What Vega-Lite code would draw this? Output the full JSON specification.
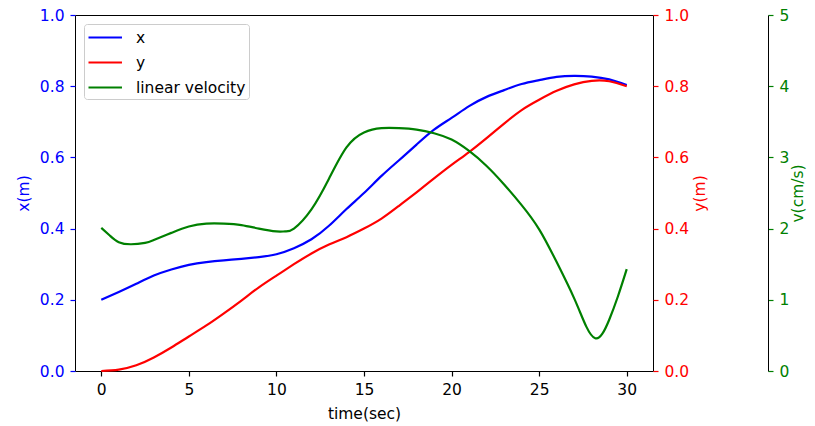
{
  "$schema": "https://vega.github.io/schema/vega-lite/v6.json",
  "width": 578,
  "height": 356,
  "autosize": {"type": "none"},
  "padding": {"left": 75, "top": 15, "right": 162, "bottom": 55},
  "config": {
    "view": {"stroke": "black", "strokeWidth": 1},
    "font": "DejaVu Sans",
    "axis": {"grid": false, "labelFont": "DejaVu Sans", "titleFont": "DejaVu Sans", "labelFontSize": 15.5, "titleFontSize": 15.5, "titleFontWeight": "normal", "tickSize": 5, "tickWidth": 1.2, "labelPadding": 6, "domain": false, "labelFlush": false, "labelOverlap": false},
    "legend": {"orient": "top-left", "offset": 9, "padding": 3, "strokeColor": "#cccccc", "fillColor": "white", "cornerRadius": 3, "symbolType": "M-1,0H2.72", "symbolStrokeWidth": 2.2, "symbolSize": 324, "labelFontSize": 15.5, "labelFont": "DejaVu Sans", "labelColor": "black", "labelOffset": 28, "rowPadding": 6}
  },
  "data": {"values": [
    {"t":0,"s":"x","v":0.200},{"t":1,"s":"x","v":0.222},{"t":2,"s":"x","v":0.245},{"t":3,"s":"x","v":0.268},{"t":4,"s":"x","v":0.285},{"t":5,"s":"x","v":0.298},{"t":6,"s":"x","v":0.306},{"t":7,"s":"x","v":0.311},{"t":8,"s":"x","v":0.315},{"t":9,"s":"x","v":0.320},{"t":10,"s":"x","v":0.328},{"t":11,"s":"x","v":0.345},{"t":12,"s":"x","v":0.370},{"t":13,"s":"x","v":0.408},{"t":14,"s":"x","v":0.455},{"t":15,"s":"x","v":0.500},{"t":16,"s":"x","v":0.548},{"t":17,"s":"x","v":0.592},{"t":18,"s":"x","v":0.636},{"t":19,"s":"x","v":0.678},{"t":20,"s":"x","v":0.711},{"t":21,"s":"x","v":0.744},{"t":22,"s":"x","v":0.770},{"t":23,"s":"x","v":0.789},{"t":24,"s":"x","v":0.806},{"t":25,"s":"x","v":0.817},{"t":26,"s":"x","v":0.826},{"t":27,"s":"x","v":0.829},{"t":28,"s":"x","v":0.827},{"t":29,"s":"x","v":0.819},{"t":30,"s":"x","v":0.803},
    {"t":0,"s":"y","v":0.000},{"t":1,"s":"y","v":0.004},{"t":2,"s":"y","v":0.016},{"t":3,"s":"y","v":0.038},{"t":4,"s":"y","v":0.066},{"t":5,"s":"y","v":0.097},{"t":6,"s":"y","v":0.128},{"t":7,"s":"y","v":0.162},{"t":8,"s":"y","v":0.198},{"t":9,"s":"y","v":0.235},{"t":10,"s":"y","v":0.268},{"t":11,"s":"y","v":0.300},{"t":12,"s":"y","v":0.330},{"t":13,"s":"y","v":0.355},{"t":14,"s":"y","v":0.376},{"t":15,"s":"y","v":0.400},{"t":16,"s":"y","v":0.428},{"t":17,"s":"y","v":0.464},{"t":18,"s":"y","v":0.502},{"t":19,"s":"y","v":0.541},{"t":20,"s":"y","v":0.579},{"t":21,"s":"y","v":0.615},{"t":22,"s":"y","v":0.654},{"t":23,"s":"y","v":0.695},{"t":24,"s":"y","v":0.733},{"t":25,"s":"y","v":0.762},{"t":26,"s":"y","v":0.787},{"t":27,"s":"y","v":0.805},{"t":28,"s":"y","v":0.815},{"t":29,"s":"y","v":0.814},{"t":30,"s":"y","v":0.800},
    {"t":0,"s":"linear velocity","v":2.01},{"t":0.5,"s":"linear velocity","v":1.90},{"t":1,"s":"linear velocity","v":1.81},{"t":1.7,"s":"linear velocity","v":1.78},{"t":2.5,"s":"linear velocity","v":1.80},{"t":3,"s":"linear velocity","v":1.84},{"t":4,"s":"linear velocity","v":1.94},{"t":5,"s":"linear velocity","v":2.03},{"t":6,"s":"linear velocity","v":2.07},{"t":7,"s":"linear velocity","v":2.07},{"t":8,"s":"linear velocity","v":2.05},{"t":9,"s":"linear velocity","v":2.00},{"t":10,"s":"linear velocity","v":1.96},{"t":10.5,"s":"linear velocity","v":1.96},{"t":11,"s":"linear velocity","v":2.00},{"t":12,"s":"linear velocity","v":2.27},{"t":13,"s":"linear velocity","v":2.70},{"t":14,"s":"linear velocity","v":3.14},{"t":15,"s":"linear velocity","v":3.35},{"t":16,"s":"linear velocity","v":3.41},{"t":17,"s":"linear velocity","v":3.41},{"t":18,"s":"linear velocity","v":3.39},{"t":19,"s":"linear velocity","v":3.34},{"t":20,"s":"linear velocity","v":3.25},{"t":21,"s":"linear velocity","v":3.09},{"t":22,"s":"linear velocity","v":2.88},{"t":23,"s":"linear velocity","v":2.62},{"t":24,"s":"linear velocity","v":2.33},{"t":25,"s":"linear velocity","v":1.99},{"t":26,"s":"linear velocity","v":1.53},{"t":27,"s":"linear velocity","v":1.02},{"t":27.7,"s":"linear velocity","v":0.62},{"t":28.2,"s":"linear velocity","v":0.46},{"t":28.6,"s":"linear velocity","v":0.52},{"t":29,"s":"linear velocity","v":0.72},{"t":29.5,"s":"linear velocity","v":1.05},{"t":30,"s":"linear velocity","v":1.43}
  ]},
  "encoding": {
    "x": {"field": "t", "type": "quantitative", "scale": {"domain": [-1.5, 31.5], "nice": false, "zero": false}, "axis": {"values": [0, 5, 10, 15, 20, 25, 30], "title": "time(sec)", "labelColor": "black", "tickColor": "black", "titleColor": "black", "labelPadding": 6, "titlePadding": 9}},
    "color": {"field": "s", "type": "nominal", "scale": {"domain": ["x", "y", "linear velocity"], "range": ["#0000ff", "#ff0000", "#008000"]}, "legend": {"title": null}}
  },
  "layer": [
    {
      "transform": [{"filter": "datum.s === 'x'"}],
      "mark": {"type": "line", "interpolate": "natural", "strokeWidth": 2.2},
      "encoding": {
        "y": {"field": "v", "type": "quantitative", "scale": {"domain": [0, 1], "nice": false}, "axis": {"orient": "left", "values": [0, 0.2, 0.4, 0.6, 0.8, 1], "format": ".1f", "title": "x(m)", "labelColor": "#0000ff", "tickColor": "#0000ff", "titleColor": "#0000ff", "titlePadding": 8}}
      }
    },
    {
      "transform": [{"filter": "datum.s === 'y'"}],
      "mark": {"type": "line", "interpolate": "natural", "strokeWidth": 2.2},
      "encoding": {
        "y": {"field": "v", "type": "quantitative", "scale": {"domain": [0, 1], "nice": false}, "axis": {"orient": "right", "values": [0, 0.2, 0.4, 0.6, 0.8, 1], "format": ".1f", "title": "y(m)", "titleAngle": 270, "titleBaseline": "top", "labelColor": "#ff0000", "tickColor": "#ff0000", "titleColor": "#ff0000", "titlePadding": 4}}
      }
    },
    {
      "transform": [{"filter": "datum.s === 'linear velocity'"}],
      "mark": {"type": "line", "interpolate": "natural", "strokeWidth": 2.2},
      "encoding": {
        "y": {"field": "v", "type": "quantitative", "scale": {"domain": [0, 5], "nice": false}, "axis": {"orient": "right", "offset": 115, "domain": true, "domainColor": "black", "values": [0, 1, 2, 3, 4, 5], "format": "d", "title": "v(cm/s)", "titleAngle": 270, "titleBaseline": "top", "labelColor": "#008000", "tickColor": "#008000", "titleColor": "#008000", "titlePadding": 2}}
      }
    }
  ],
  "resolve": {"scale": {"y": "independent"}, "axis": {"y": "independent"}}
}
